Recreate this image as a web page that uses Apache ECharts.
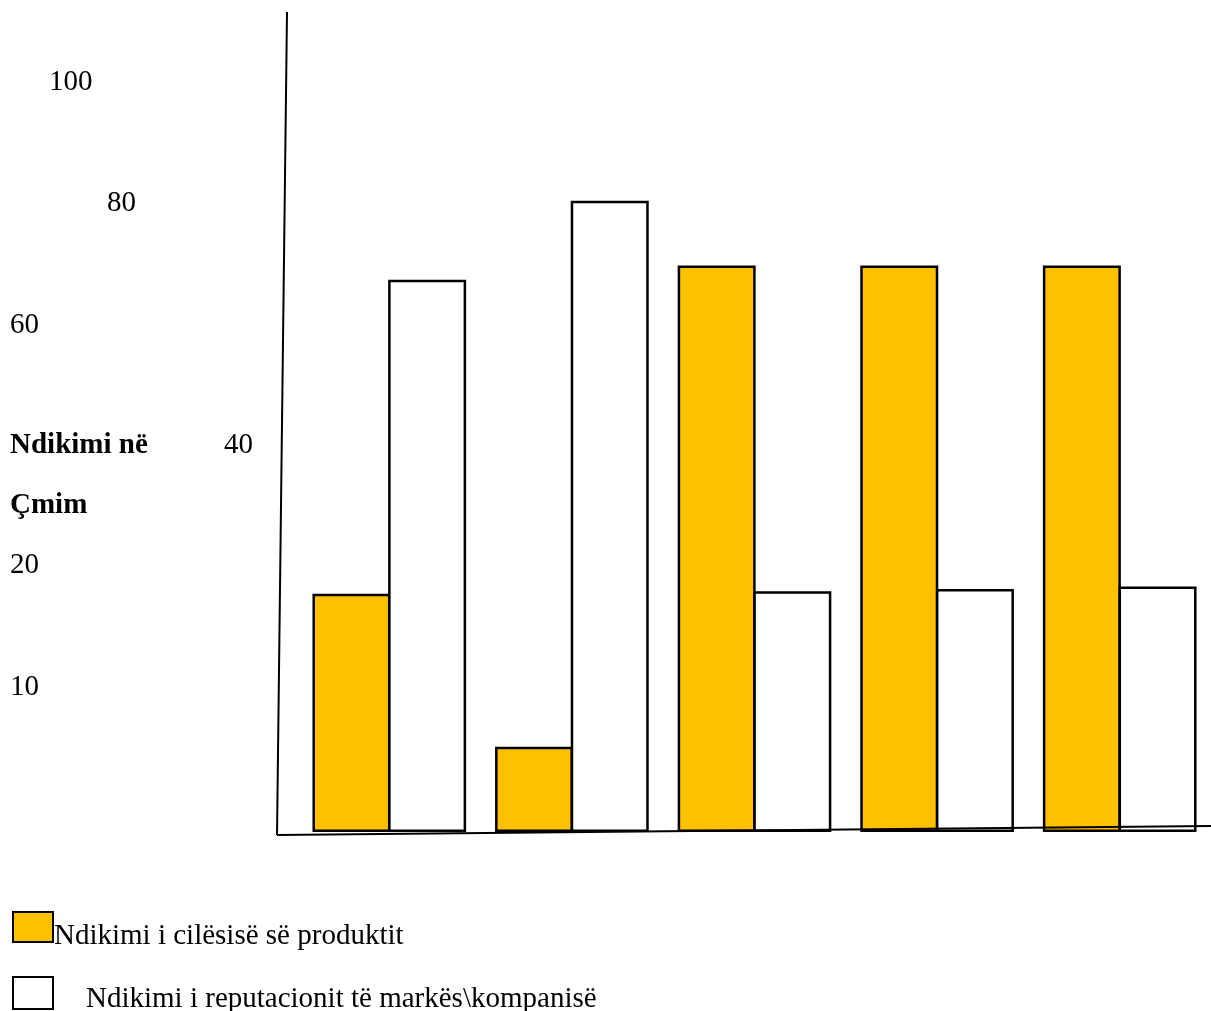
<!DOCTYPE html>
<html>
<head>
<meta charset="utf-8">
<script src="https://cdn.jsdelivr.net/npm/echarts@6/dist/echarts.min.js"></script>
<style>
  html, body { margin: 0; padding: 0; background: #fff; }
  #chart { width: 1211px; height: 1011px; }
</style>
</head>
<body>
<div id="chart"></div>
<script>
// Data
var categories = ['1', '2', '3', '4', '5'];
var seriesNames = ['Ndikimi i cilësisë së produktit', 'Ndikimi i reputacionit të markës\\kompanisë'];
var qualityValues = [30.2, 10.8, 71.8, 71.8, 71.8];
var reputationValues = [70, 80, 30.5, 30.8, 31.1];
var tickLabels = ['100', '80', '60', '40', '20', '10'];
var axisTitleLines = ['Ndikimi në', 'Çmim'];

// Free-standing label placement (left edge, vertical centre)
var tickPlaces = [[49, 83], [107, 204], [10, 326], [224, 446], [10, 566], [10, 688]];
var titlePlaces = [[10, 447], [10, 507]];

var FONT = '"Liberation Serif", "Times New Roman", serif';
var chart = echarts.init(document.getElementById('chart'), null, { renderer: 'canvas' });

var graphics = [];
tickLabels.forEach(function (t, i) {
  graphics.push({
    type: 'text', left: tickPlaces[i][0], top: tickPlaces[i][1] - 15,
    style: { text: t, font: '29px ' + FONT, fill: '#000' }
  });
});
axisTitleLines.forEach(function (t, i) {
  graphics.push({
    type: 'text', left: titlePlaces[i][0], top: titlePlaces[i][1] - 16,
    style: { text: t, font: 'bold 29px ' + FONT, fill: '#000' }
  });
});
// hand-ruled axis lines
graphics.push({
  type: 'line', shape: { x1: 287, y1: 12, x2: 277, y2: 835 },
  style: { stroke: '#000', lineWidth: 2 }, z: 10
});
graphics.push({
  type: 'line', shape: { x1: 277, y1: 835, x2: 1211, y2: 826 },
  style: { stroke: '#000', lineWidth: 2 }, z: 10
});

function legendText(dropPx, leftPx) {
  return {
    fontFamily: FONT, fontSize: 29, color: '#000',
    rich: { t: { fontFamily: FONT, fontSize: 29, color: '#000', padding: [dropPx, 0, 0, leftPx] } }
  };
}

var option = {
  animation: false,
  backgroundColor: '#fff',
  grid: { left: 298, top: 43, width: 919, height: 789, containLabel: false },
  xAxis: {
    type: 'category', data: categories,
    axisLine: { show: false }, axisTick: { show: false }, axisLabel: { show: false },
    splitLine: { show: false }
  },
  yAxis: {
    type: 'value', min: 0, max: 100,
    axisLine: { show: false }, axisTick: { show: false }, axisLabel: { show: false },
    splitLine: { show: false }
  },
  legend: [
    {
      data: [seriesNames[0]], left: 7, top: 906, orient: 'vertical',
      itemWidth: 40, itemHeight: 30, icon: 'rect',
      formatter: '{t|{name}}',
      textStyle: legendText(18, -4),
      selectedMode: false
    },
    {
      data: [seriesNames[1]], left: 7, top: 971, orient: 'vertical',
      itemWidth: 40, itemHeight: 32, icon: 'rect',
      formatter: '{t|{name}}',
      textStyle: legendText(12, 28),
      selectedMode: false
    }
  ],
  series: [
    {
      name: seriesNames[0], type: 'bar', data: qualityValues,
      barWidth: 78, barGap: '-3%',
      itemStyle: { color: '#FFC000', borderColor: '#000', borderWidth: 2.5 }
    },
    {
      name: seriesNames[1], type: 'bar', data: reputationValues,
      barWidth: 78, barGap: '-3%',
      itemStyle: { color: '#fff', borderColor: '#000', borderWidth: 2.5 }
    }
  ],
  graphic: graphics
};
chart.setOption(option);
</script>
</body>
</html>
